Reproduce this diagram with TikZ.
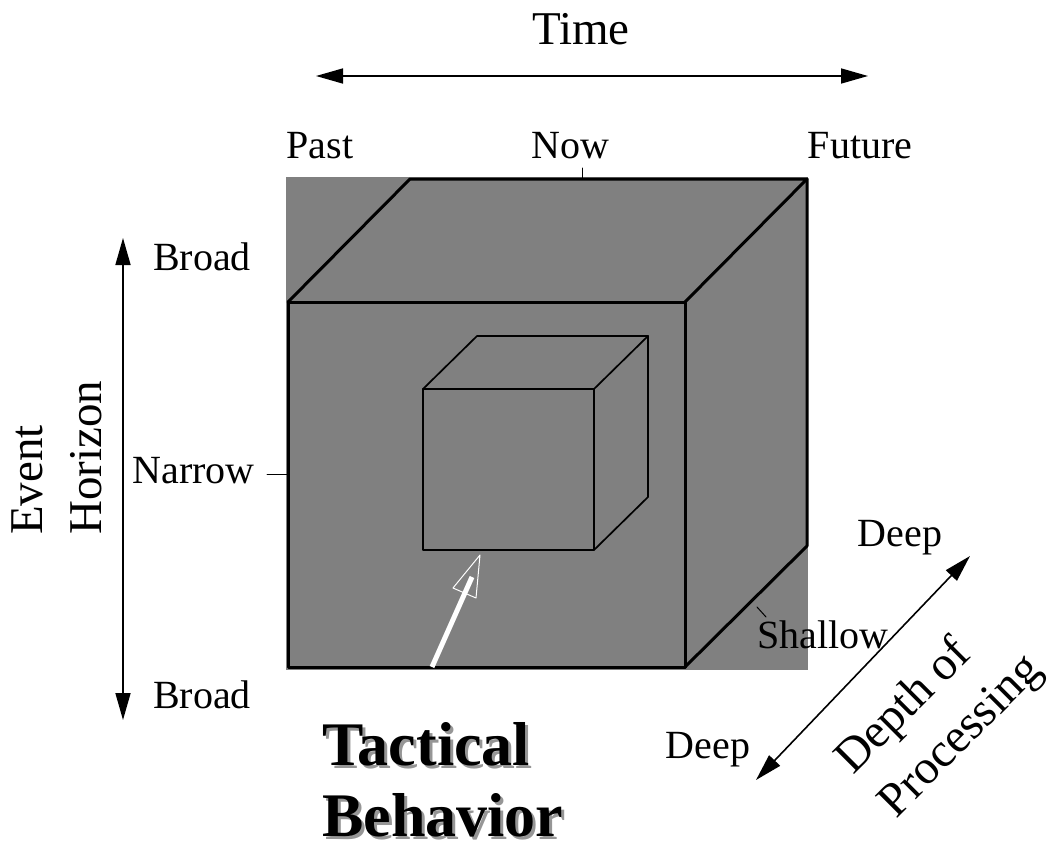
\documentclass[tikz,border=0pt]{standalone}
\usepackage{fontspec}
\setmainfont{Liberation Serif}
\usetikzlibrary{arrows.meta}

\definecolor{cubegray}{RGB}{128,128,128}
\definecolor{shadowgray}{RGB}{150,150,150}

\tikzset{
  lbl/.style={inner sep=0pt,font=\fontsize{40}{48}\selectfont},
  biglbl/.style={inner sep=0pt,font=\fontsize{47}{59}\selectfont},
  tactic/.style={inner sep=0pt,align=left,anchor=north west,font=\fontsize{62}{71}\selectfont\bfseries},
  outeredge/.style={line width=3pt},
  inneredge/.style={line width=1.7pt},
  axis/.style={line width=1.6pt,<->},
}

\begin{document}
\begin{tikzpicture}[line cap=round,line join=round,>={Triangle[length=27pt,width=15pt]},x=1pt,y=-1pt]

\useasboundingbox (0,0) rectangle (1052,848);

% big cube
\fill[cubegray] (286,177) rectangle (808,670);
\draw[outeredge] (288,302) rectangle (685,667);
\draw[outeredge] (288,302) -- (410,179) -- (807,179) -- (685,302);
\draw[outeredge] (807,179) -- (807,546) -- (685,667);

% inner cube
\draw[inneredge] (423,389) rectangle (594,550);
\draw[inneredge] (423,389) -- (477,336) -- (648,336) -- (594,389);
\draw[inneredge] (648,336) -- (648,497) -- (594,550);

% time axis
\node[biglbl,anchor=base] (time) at (581,45) {Time};
\coordinate (tleft) at (316,76);
\coordinate (tright) at (868,76);
\draw[axis] (tleft) -- (tright);

\node[lbl,anchor=base] (past) at (320,158) {Past};
\node[lbl,anchor=base] (now) at (570,158) {Now};
\node[lbl,anchor=base] (future) at (860,158) {Future};
\coordinate (nowtick) at (582,178);
\draw[line width=1pt] (nowtick) -- ++(0,-10);

% event horizon axis
\node[biglbl,rotate=90,anchor=north west,align=left] (horizon) at (12,535) {Event\\Horizon};
\coordinate (htop) at (123,238);
\coordinate (hbot) at (123,720);
\draw[axis] (htop) -- (hbot);

\node[lbl,anchor=base] (broadtop) at (202,270) {Broad};
\node[lbl,anchor=base east] (narrow) at (255,483) {Narrow};
\node[lbl,anchor=base] (broadbot) at (202,708) {Broad};
\coordinate (narrowtick) at (287,474);
\draw[line width=1pt] (narrowtick) -- ++(-20,0);

% depth axis
\node[lbl,anchor=base] (deeptop) at (900,546) {Deep};
\node[lbl,anchor=base west] (shallow) at (757,648) {Shallow};
\node[lbl,anchor=base] (deepbot) at (708,758) {Deep};
\coordinate (shallowtick) at (766,617);
\draw[line width=1pt] (shallowtick) -- ++(-9,-10);
\coordinate (dlow) at (756,780);
\coordinate (dhigh) at (970,556);
\draw[axis] (dlow) -- (dhigh);
\node[inner sep=0pt,font=\fontsize{48}{61}\selectfont,rotate=45,anchor=north west,align=left] (depth) at (829,752) {Depth of\\Processing};

% tactical behavior
\draw[white,line width=1pt,fill=cubegray] (480,555) -- (453,588) -- (476,598) -- cycle;
\coordinate (tbtail) at (432,667);
\coordinate (tbend) at (472,577);
\draw[white,line width=5pt,line cap=butt] (tbtail) -- (tbend);

\node[tactic,text=shadowgray] (tacshadow) at (325,725) {Tactical\\Behavior};
\node[tactic] (tactical) at (322,722) {Tactical\\Behavior};

\end{tikzpicture}
\end{document}
